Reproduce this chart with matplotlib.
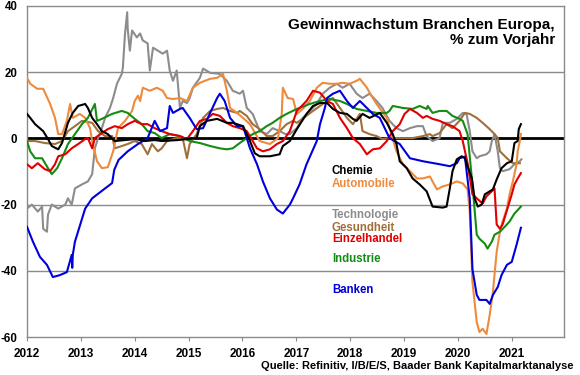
import matplotlib
matplotlib.use("Agg")
import matplotlib.pyplot as plt

plt.rcParams['font.family'] = ['Liberation Sans', 'DejaVu Sans']
plt.rcParams['font.weight'] = 'bold'
plt.rcParams['axes.unicode_minus'] = False

# (Jahr, % zum Vorjahr)
chemie = [(2012.00, 7.4), (2012.06, 6.2), (2012.15, 4.3), (2012.30, 2.2), (2012.39, -0.2),
          (2012.46, -2.3), (2012.58, -3.3), (2012.65, -1.4), (2012.76, 4.7), (2012.85, 7.7),
          (2012.95, 9.8), (2013.08, 10.4), (2013.13, 9.2), (2013.21, 6.2), (2013.30, 4.3),
          (2013.39, 2.2), (2013.50, 1.3), (2013.63, -0.8), (2013.82, -0.5), (2014.00, -0.2),
          (2014.19, -0.8), (2014.37, -0.5), (2014.50, -0.8), (2014.80, -0.5), (2015.15, 0.1),
          (2015.21, 3.7), (2015.34, 5.3), (2015.53, 5.9), (2015.71, 4.7), (2015.82, 4.7),
          (2016.01, 3.7), (2016.08, 1.3), (2016.14, -0.8), (2016.23, -4.5), (2016.32, -5.4),
          (2016.51, -5.4), (2016.69, -4.8), (2016.75, -2.3), (2016.88, -0.8), (2017.01, 2.8),
          (2017.19, 7.4), (2017.31, 9.8), (2017.44, 10.7), (2017.57, 10.7), (2017.68, 8.9),
          (2017.81, 7.7), (2017.94, 7.4), (2018.05, 5.9), (2018.12, 5.3), (2018.23, 7.4),
          (2018.36, 6.2), (2018.55, 7.7), (2018.68, 4.7), (2018.79, 1.3), (2018.86, -1.7),
          (2018.92, -6.9), (2019.05, -9.0), (2019.16, -12.1), (2019.29, -13.9), (2019.42, -16.0),
          (2019.53, -20.6), (2019.72, -20.9), (2019.79, -20.6), (2019.85, -15.1), (2019.90, -9.9),
          (2019.98, -6.3), (2020.07, -5.4), (2020.13, -6.0), (2020.18, -8.4), (2020.26, -12.1),
          (2020.31, -18.1), (2020.37, -20.6), (2020.44, -20.0), (2020.50, -16.9), (2020.59, -16.0),
          (2020.65, -15.4), (2020.72, -12.4), (2020.81, -9.0), (2020.91, -7.5), (2021.00, -6.9),
          (2021.05, -1.4), (2021.11, -0.8), (2021.13, 2.8), (2021.17, 4.3)]

automobile = [(2012.00, 18.3), (2012.06, 16.5), (2012.19, 15.0), (2012.30, 15.0), (2012.43, 10.4),
              (2012.52, 6.2), (2012.58, 1.3), (2012.65, 1.3), (2012.74, 5.3), (2012.80, 10.4),
              (2012.85, 6.2), (2012.98, 7.4), (2013.08, 6.2), (2013.17, 3.1), (2013.21, -0.8),
              (2013.30, -6.9), (2013.39, -9.0), (2013.50, -8.7), (2013.60, -3.9), (2013.69, 3.1),
              (2013.82, 5.3), (2013.95, 8.3), (2014.00, 11.3), (2014.06, 12.9), (2014.10, 11.3),
              (2014.15, 15.3), (2014.28, 14.4), (2014.41, 15.3), (2014.52, 14.4), (2014.60, 12.2),
              (2014.71, 11.9), (2014.84, 12.2), (2014.97, 11.3), (2015.08, 15.3), (2015.21, 16.8),
              (2015.40, 18.0), (2015.53, 18.3), (2015.64, 19.5), (2015.71, 14.4), (2015.77, 9.2),
              (2015.90, 7.7), (2016.01, 6.2), (2016.14, 4.3), (2016.32, -0.8), (2016.51, -1.7),
              (2016.66, 0.1), (2016.73, 7.4), (2016.75, 15.3), (2016.84, 12.2), (2016.94, 11.9),
              (2017.01, 7.4), (2017.12, 8.9), (2017.25, 11.3), (2017.38, 15.3), (2017.49, 16.8),
              (2017.62, 16.5), (2017.75, 16.5), (2017.86, 16.8), (2017.99, 16.5), (2018.12, 17.4),
              (2018.18, 18.0), (2018.31, 15.3), (2018.42, 12.2), (2018.49, 10.4), (2018.68, 6.2),
              (2018.73, 3.1), (2018.86, -3.9), (2018.98, -7.8), (2019.11, -9.9), (2019.24, -12.1),
              (2019.35, -12.1), (2019.48, -11.5), (2019.61, -15.4), (2019.72, -14.5), (2019.85, -13.9),
              (2019.98, -13.0), (2020.09, -13.6), (2020.18, -15.4), (2020.22, -22.1), (2020.27, -43.4),
              (2020.35, -55.5), (2020.40, -58.5), (2020.46, -57.5), (2020.53, -59.1), (2020.59, -53.4),
              (2020.65, -46.4), (2020.72, -34.3), (2020.78, -28.2), (2020.83, -25.1), (2020.91, -21.2),
              (2020.96, -16.9), (2021.02, -13.0), (2021.09, -7.8), (2021.11, -3.9), (2021.15, -0.8),
              (2021.17, 1.3)]

technologie = [(2012.00, -21.2), (2012.09, -20.0), (2012.20, -22.1), (2012.28, -20.6), (2012.30, -27.3),
               (2012.37, -28.2), (2012.39, -23.0), (2012.46, -20.0), (2012.58, -21.2), (2012.71, -20.0),
               (2012.76, -18.1), (2012.83, -20.0), (2012.89, -15.1), (2013.02, -13.9), (2013.13, -13.0),
               (2013.21, -10.8), (2013.26, -3.0), (2013.32, 0.1), (2013.39, 3.1), (2013.45, 6.2),
               (2013.54, 9.2), (2013.60, 12.2), (2013.67, 16.5), (2013.76, 19.5), (2013.78, 21.4),
               (2013.82, 31.7), (2013.86, 38.1), (2013.87, 33.0), (2013.91, 26.5), (2013.95, 32.6),
               (2014.04, 30.5), (2014.10, 31.7), (2014.15, 29.6), (2014.24, 28.7), (2014.28, 20.5),
               (2014.34, 27.4), (2014.43, 26.5), (2014.52, 25.6), (2014.60, 26.5), (2014.65, 20.5),
               (2014.71, 17.4), (2014.78, 20.5), (2014.84, 9.2), (2014.89, 11.3), (2014.97, 10.7),
               (2015.02, 12.2), (2015.08, 15.3), (2015.21, 18.3), (2015.27, 21.1), (2015.40, 19.8),
               (2015.58, 19.5), (2015.71, 17.4), (2015.82, 14.4), (2015.95, 13.5), (2016.01, 14.4),
               (2016.08, 9.2), (2016.19, 7.4), (2016.32, 2.2), (2016.45, 1.3), (2016.56, 3.1),
               (2016.69, 2.2), (2016.80, 1.3), (2016.88, 1.3), (2017.01, 3.1), (2017.12, 6.2),
               (2017.25, 8.3), (2017.38, 10.4), (2017.49, 13.5), (2017.62, 15.3), (2017.75, 16.5),
               (2017.86, 15.3), (2017.99, 16.5), (2018.12, 13.5), (2018.23, 12.2), (2018.36, 13.5),
               (2018.49, 11.3), (2018.60, 9.2), (2018.73, 5.3), (2018.86, 3.1), (2018.98, 2.2),
               (2019.11, 3.1), (2019.24, 3.7), (2019.35, 3.7), (2019.42, 0.7), (2019.53, -0.8),
               (2019.66, 0.1), (2019.72, 4.7), (2019.85, 4.7), (2019.98, 5.9), (2020.09, 7.7),
               (2020.16, 7.4), (2020.22, 2.2), (2020.27, -3.9), (2020.35, -6.0), (2020.40, -5.4),
               (2020.53, -4.8), (2020.59, -3.9), (2020.63, -0.8), (2020.68, 1.3), (2020.74, -3.9),
               (2020.78, -9.0), (2020.83, -9.9), (2020.96, -9.3), (2021.05, -7.8), (2021.15, -6.9),
               (2021.18, -6.3)]

gesundheit = [(2012.00, -0.8), (2012.15, -0.8), (2012.33, -1.4), (2012.52, -1.7), (2012.65, -0.8),
              (2012.76, 2.2), (2012.89, 3.7), (2013.02, 5.3), (2013.21, 4.7), (2013.32, 2.2),
              (2013.45, 0.7), (2013.58, 0.7), (2013.63, -3.0), (2013.76, -2.3), (2013.87, -1.7),
              (2014.00, -0.8), (2014.13, -1.7), (2014.24, -4.8), (2014.32, -1.7), (2014.43, -3.9),
              (2014.50, -3.0), (2014.60, -0.8), (2014.78, 0.1), (2014.89, 0.1), (2014.97, -6.0),
              (2015.02, -1.7), (2015.15, 1.3), (2015.27, 6.2), (2015.40, 8.3), (2015.53, 8.9),
              (2015.64, 9.2), (2015.77, 8.3), (2015.90, 7.7), (2015.95, 8.3), (2016.08, 6.8),
              (2016.19, 4.3), (2016.32, 2.8), (2016.45, 0.7), (2016.56, 0.7), (2016.69, 2.2),
              (2016.82, 4.3), (2016.94, 5.3), (2017.01, 4.7), (2017.31, 8.3), (2017.49, 10.4),
              (2017.68, 12.2), (2017.81, 9.2), (2017.94, 6.2), (2018.05, 4.3), (2018.18, 7.4),
              (2018.23, 2.2), (2018.36, 1.3), (2018.49, 0.7), (2018.60, -0.2), (2018.73, 0.1),
              (2018.98, 0.1), (2019.16, 0.1), (2019.35, 0.7), (2019.48, 1.3), (2019.53, 0.7),
              (2019.66, 1.6), (2019.79, 4.3), (2019.90, 3.1), (2020.03, 5.3), (2020.13, 7.7),
              (2020.22, 7.4), (2020.35, 6.2), (2020.46, 4.7), (2020.59, 2.8), (2020.68, 1.3),
              (2020.74, 0.1), (2020.78, -3.9), (2020.91, -6.0), (2021.02, -7.5), (2021.15, -7.5)]

einzelhandel = [(2012.00, -7.8), (2012.09, -9.0), (2012.20, -7.5), (2012.33, -9.3), (2012.43, -9.9),
                (2012.52, -7.8), (2012.58, -5.4), (2012.71, -4.8), (2012.83, -3.0), (2012.95, -1.7),
                (2013.08, -0.2), (2013.13, 0.1), (2013.21, -3.0), (2013.26, 0.1), (2013.39, 1.6),
                (2013.50, 2.8), (2013.63, 3.7), (2013.76, 3.1), (2013.87, 4.3), (2014.00, 5.3),
                (2014.13, 4.3), (2014.24, 4.3), (2014.37, 3.1), (2014.50, 2.2), (2014.65, 1.3),
                (2014.84, 0.7), (2014.97, -0.2), (2015.08, 2.2), (2015.21, 5.3), (2015.34, 5.9),
                (2015.45, 7.4), (2015.58, 6.8), (2015.71, 4.7), (2015.82, 3.7), (2015.95, 3.1),
                (2016.08, 2.2), (2016.17, -0.2), (2016.27, -3.0), (2016.38, -3.9), (2016.51, -3.3),
                (2016.64, -1.7), (2016.75, -0.8), (2016.88, 2.2), (2017.01, 8.3), (2017.19, 11.3),
                (2017.31, 14.4), (2017.44, 13.8), (2017.57, 11.3), (2017.68, 10.4), (2017.81, 6.2),
                (2017.94, 3.1), (2018.05, 0.1), (2018.18, -1.7), (2018.31, -4.8), (2018.42, -3.3),
                (2018.55, -3.0), (2018.68, -0.8), (2018.79, 2.2), (2018.92, 4.3), (2019.01, 7.4),
                (2019.11, 8.9), (2019.24, 7.7), (2019.35, 6.2), (2019.42, 6.8), (2019.53, 5.9),
                (2019.66, 5.3), (2019.79, 4.3), (2019.90, 3.7), (2020.03, 2.2), (2020.09, -0.8),
                (2020.18, -7.5), (2020.27, -16.9), (2020.37, -18.4), (2020.46, -19.7), (2020.53, -17.5),
                (2020.59, -16.6), (2020.68, -15.1), (2020.72, -26.0), (2020.78, -27.3), (2020.83, -26.0),
                (2020.92, -21.2), (2021.00, -16.9), (2021.05, -13.9), (2021.11, -12.1), (2021.17, -10.5)]

industrie = [(2012.00, -0.8), (2012.06, -3.9), (2012.15, -6.0), (2012.28, -6.0), (2012.39, -9.0),
             (2012.46, -10.8), (2012.56, -9.0), (2012.65, -6.0), (2012.76, -1.7), (2012.89, 1.3),
             (2013.02, 4.3), (2013.13, 6.2), (2013.26, 10.4), (2013.30, 5.3), (2013.39, 5.9),
             (2013.58, 7.4), (2013.76, 8.3), (2013.87, 7.7), (2014.00, 5.9), (2014.13, 4.3),
             (2014.24, 2.2), (2014.37, 1.6), (2014.50, 0.1), (2014.65, 1.3), (2014.84, 0.7),
             (2015.02, -0.8), (2015.21, -1.4), (2015.40, -2.3), (2015.58, -3.0), (2015.71, -3.3),
             (2015.82, -3.0), (2015.95, -1.4), (2016.08, 0.1), (2016.19, 1.3), (2016.32, 2.2),
             (2016.45, 3.7), (2016.56, 4.7), (2016.69, 6.2), (2016.82, 7.4), (2017.01, 8.9),
             (2017.06, 9.2), (2017.25, 10.4), (2017.44, 11.3), (2017.62, 11.9), (2017.81, 11.3),
             (2017.94, 10.4), (2018.12, 8.9), (2018.31, 8.3), (2018.49, 7.7), (2018.68, 7.7),
             (2018.73, 8.3), (2018.79, 9.8), (2018.98, 9.2), (2019.16, 8.9), (2019.29, 9.8),
             (2019.42, 8.9), (2019.44, 9.8), (2019.53, 7.7), (2019.66, 8.3), (2019.79, 8.3),
             (2019.90, 6.8), (2020.03, 5.9), (2020.09, 5.3), (2020.18, 1.3), (2020.27, -13.9),
             (2020.35, -29.1), (2020.40, -30.3), (2020.50, -31.8), (2020.55, -33.3), (2020.63, -31.2),
             (2020.68, -29.1), (2020.78, -28.2), (2020.87, -26.7), (2020.96, -25.1), (2021.05, -22.7),
             (2021.17, -20.6)]

banken = [(2012.00, -26.7), (2012.11, -31.2), (2012.24, -35.8), (2012.37, -38.2), (2012.48, -41.9),
          (2012.61, -41.3), (2012.74, -40.4), (2012.83, -35.2), (2012.84, -39.1), (2012.85, -35.2),
          (2012.89, -31.2), (2013.08, -21.2), (2013.21, -18.1), (2013.45, -15.1), (2013.58, -13.5),
          (2013.62, -9.5), (2013.70, -6.5), (2013.87, -3.9), (2014.06, -1.7), (2014.24, 0.1),
          (2014.37, 5.3), (2014.47, 2.2), (2014.60, 3.1), (2014.65, 9.8), (2014.71, 7.7),
          (2014.84, 8.9), (2014.89, 9.2), (2015.02, 6.2), (2015.15, 2.8), (2015.27, 3.1),
          (2015.40, 7.7), (2015.53, 12.2), (2015.58, 13.5), (2015.67, 11.3), (2015.77, 6.2),
          (2015.90, 3.7), (2016.01, 3.7), (2016.14, -3.0), (2016.27, -7.8), (2016.38, -13.0),
          (2016.51, -18.1), (2016.64, -21.5), (2016.75, -22.7), (2016.88, -20.0), (2016.94, -18.1),
          (2017.06, -13.9), (2017.19, -7.8), (2017.38, -0.8), (2017.44, 4.3), (2017.53, 9.2),
          (2017.57, 12.2), (2017.68, 13.5), (2017.81, 14.4), (2017.94, 11.3), (2018.05, 9.2),
          (2018.18, 11.3), (2018.31, 9.2), (2018.42, 7.4), (2018.55, 6.2), (2018.73, 0.1),
          (2018.92, -1.7), (2019.11, -6.0), (2019.35, -6.9), (2019.66, -7.8), (2019.85, -8.4),
          (2019.98, -7.5), (2020.03, -6.0), (2020.13, -5.5), (2020.22, -18.1), (2020.27, -39.5),
          (2020.35, -47.3), (2020.40, -48.8), (2020.53, -48.8), (2020.59, -50.0), (2020.65, -47.3),
          (2020.74, -44.9), (2020.81, -41.3), (2020.91, -38.2), (2021.00, -37.3), (2021.09, -32.1),
          (2021.17, -27.0)]

series = [
    ("Technologie", technologie, "#8c8c8c"),
    ("Gesundheit", gesundheit, "#a0703c"),
    ("Automobile", automobile, "#ee8a3c"),
    ("Industrie", industrie, "#148c14"),
    ("Einzelhandel", einzelhandel, "#e00000"),
    ("Banken", banken, "#0000dd"),
    ("Chemie", chemie, "#000000"),
]

# Beschriftungen im Chart (Name, y)
labels = [("Chemie", -10.0), ("Automobile", -13.7), ("Technologie", -23.1),
          ("Gesundheit", -27.1), ("Einzelhandel", -30.4), ("Industrie", -36.5),
          ("Banken", -45.9)]
label_x = 2017.66

years = list(range(2012, 2022))

fig = plt.figure(figsize=(5.8, 3.75), dpi=100)
ax = fig.add_axes([27 / 580, 1 - 337 / 375, 537 / 580, 331 / 375])

colors = {}
for name, data, col in series:
    xs = [p[0] for p in data]
    ys = [p[1] for p in data]
    ax.plot(xs, ys, color=col, lw=1.5, zorder=3)
    colors[name] = col

for y in [20, -20, -40]:
    ax.axhline(y, color="#8a8a8a", lw=1, zorder=1)
ax.axhline(0, color="black", lw=2, zorder=2)

for name, y in labels:
    ax.text(label_x, y, name, color=colors[name], fontsize=8.3, fontweight="bold",
            va="center", ha="left")

ax.set_xlim(2012, 2021.97)
ax.set_ylim(-60, 40)
ax.set_xticks(years)
ax.set_xticklabels([str(y) for y in years])
ax.set_yticks([-60, -40, -20, 0, 20, 40])
ax.tick_params(axis="y", length=0, pad=7, labelsize=8.3)
ax.tick_params(axis="x", length=3, direction="out", pad=5, labelsize=8.5, color="#8a8a8a")
for s in ax.spines.values():
    s.set_color("#8a8a8a")
    s.set_linewidth(1)

ax.text(0.983, 0.965, "Gewinnwachstum Branchen Europa,\n% zum Vorjahr", transform=ax.transAxes,
        ha="right", va="top", fontsize=11, fontweight="bold", linespacing=1.1)

fig.text(0.988, 0.024, "Quelle: Refinitiv, I/B/E/S, Baader Bank Kapitalmarktanalyse",
         ha="right", va="center", fontsize=8, fontweight="bold")

fig.savefig("out.png", dpi=100)
